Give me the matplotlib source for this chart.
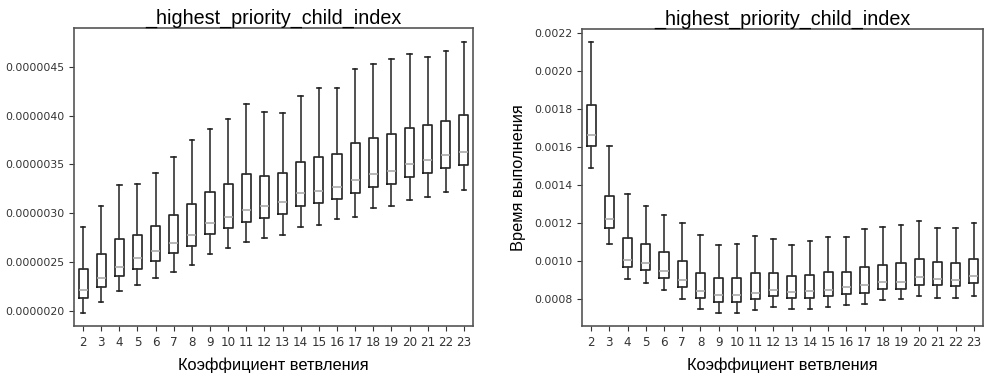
import matplotlib
matplotlib.use("Agg")
import matplotlib.pyplot as plt

branching = list(range(2, 24))

# left chart, values in 1e-6 s
left_min = [1.976, 2.089, 2.205, 2.263, 2.338, 2.402, 2.471, 2.580, 2.641, 2.703, 2.750,
            2.778, 2.856, 2.883, 2.938, 2.965, 3.054, 3.074, 3.136, 3.170, 3.221, 3.238]
left_q1 = [2.136, 2.249, 2.362, 2.433, 2.515, 2.590, 2.668, 2.784, 2.846, 2.914, 2.955,
           2.996, 3.078, 3.105, 3.149, 3.211, 3.272, 3.303, 3.371, 3.415, 3.467, 3.497]
left_med = [2.215, 2.341, 2.454, 2.539, 2.614, 2.692, 2.774, 2.904, 2.962, 3.030, 3.078,
            3.119, 3.204, 3.228, 3.272, 3.340, 3.405, 3.429, 3.504, 3.542, 3.593, 3.630]
left_q3 = [2.426, 2.580, 2.733, 2.778, 2.873, 2.982, 3.098, 3.214, 3.296, 3.398, 3.385,
           3.415, 3.521, 3.572, 3.603, 3.716, 3.774, 3.814, 3.876, 3.900, 3.947, 4.002]
left_max = [2.863, 3.074, 3.289, 3.296, 3.415, 3.579, 3.746, 3.859, 3.961, 4.115, 4.033,
            4.022, 4.203, 4.282, 4.285, 4.476, 4.527, 4.578, 4.630, 4.595, 4.660, 4.756]

# right chart, values in 1e-3 s
right_min = [1.489, 1.091, 0.905, 0.888, 0.849, 0.804, 0.751, 0.726, 0.726, 0.744, 0.758,
             0.747, 0.751, 0.760, 0.770, 0.775, 0.796, 0.800, 0.818, 0.809, 0.809, 0.818]
right_q1 = [1.609, 1.174, 0.968, 0.954, 0.914, 0.867, 0.809, 0.786, 0.786, 0.802, 0.816,
            0.809, 0.809, 0.816, 0.826, 0.835, 0.854, 0.856, 0.877, 0.875, 0.870, 0.884]
right_med = [1.665, 1.223, 1.007, 0.993, 0.949, 0.902, 0.844, 0.821, 0.821, 0.832, 0.849,
             0.839, 0.844, 0.849, 0.863, 0.875, 0.889, 0.889, 0.916, 0.905, 0.902, 0.923]
right_q3 = [1.825, 1.346, 1.121, 1.089, 1.047, 1.002, 0.940, 0.911, 0.914, 0.937, 0.937,
            0.921, 0.930, 0.942, 0.946, 0.972, 0.982, 0.989, 1.011, 0.996, 0.989, 1.011]
right_max = [2.156, 1.609, 1.353, 1.291, 1.244, 1.204, 1.137, 1.088, 1.093, 1.135, 1.116,
             1.088, 1.109, 1.130, 1.126, 1.172, 1.182, 1.191, 1.212, 1.177, 1.174, 1.204]

title = "_highest_priority_child_index"
xlab = "Коэффициент ветвления"
ylab = "Время выполнения"


def make_stats(lo, q1, med, q3, hi, scale):
    stats = []
    for a, b, c, d, e, name in zip(lo, q1, med, q3, hi, branching):
        stats.append({"whislo": a * scale, "q1": b * scale, "med": c * scale,
                      "q3": d * scale, "whishi": e * scale, "fliers": [], "label": str(name)})
    return stats


def draw(ax, stats, ylim, yticks, fmt):
    ax.bxp(stats, showfliers=False,
           boxprops=dict(color="#222222", lw=1.2),
           whiskerprops=dict(color="#333333", lw=1.2),
           capprops=dict(color="#222222", lw=1.2),
           medianprops=dict(color="#aaaaaa", lw=1.2))
    ax.set_ylim(ylim)
    ax.set_yticks(yticks)
    ax.set_yticklabels([fmt % t for t in yticks])
    ax.set_title(title, fontsize=14.2, family="Liberation Sans", pad=3)
    ax.set_xlabel(xlab, fontsize=11.8, family="Liberation Sans", labelpad=6)
    ax.tick_params(labelsize=7.8, colors="#333333", length=3.5)
    ax.tick_params(axis="x", labelsize=8.6)
    for s in ax.spines.values():
        s.set_color("#555555")
        s.set_linewidth(1.2)


fig = plt.figure(figsize=(9.84, 3.74), dpi=100)
ax1 = fig.add_axes([74 / 984, 48 / 374, 399 / 984, 298 / 374])
ax2 = fig.add_axes([582 / 984, 48 / 374, 401 / 984, 297 / 374])

draw(ax1, make_stats(left_min, left_q1, left_med, left_q3, left_max, 1e-6),
     (1.847e-6, 4.896e-6), [2.0e-6, 2.5e-6, 3.0e-6, 3.5e-6, 4.0e-6, 4.5e-6], "%.7f")
draw(ax2, make_stats(right_min, right_q1, right_med, right_q3, right_max, 1e-3),
     (0.660e-3, 2.223e-3), [0.0008, 0.0010, 0.0012, 0.0014, 0.0016, 0.0018, 0.0020, 0.0022], "%.4f")
ax2.set_ylabel(ylab, fontsize=11.8, family="Liberation Sans", labelpad=6)

fig.savefig("out.png", dpi=100)
